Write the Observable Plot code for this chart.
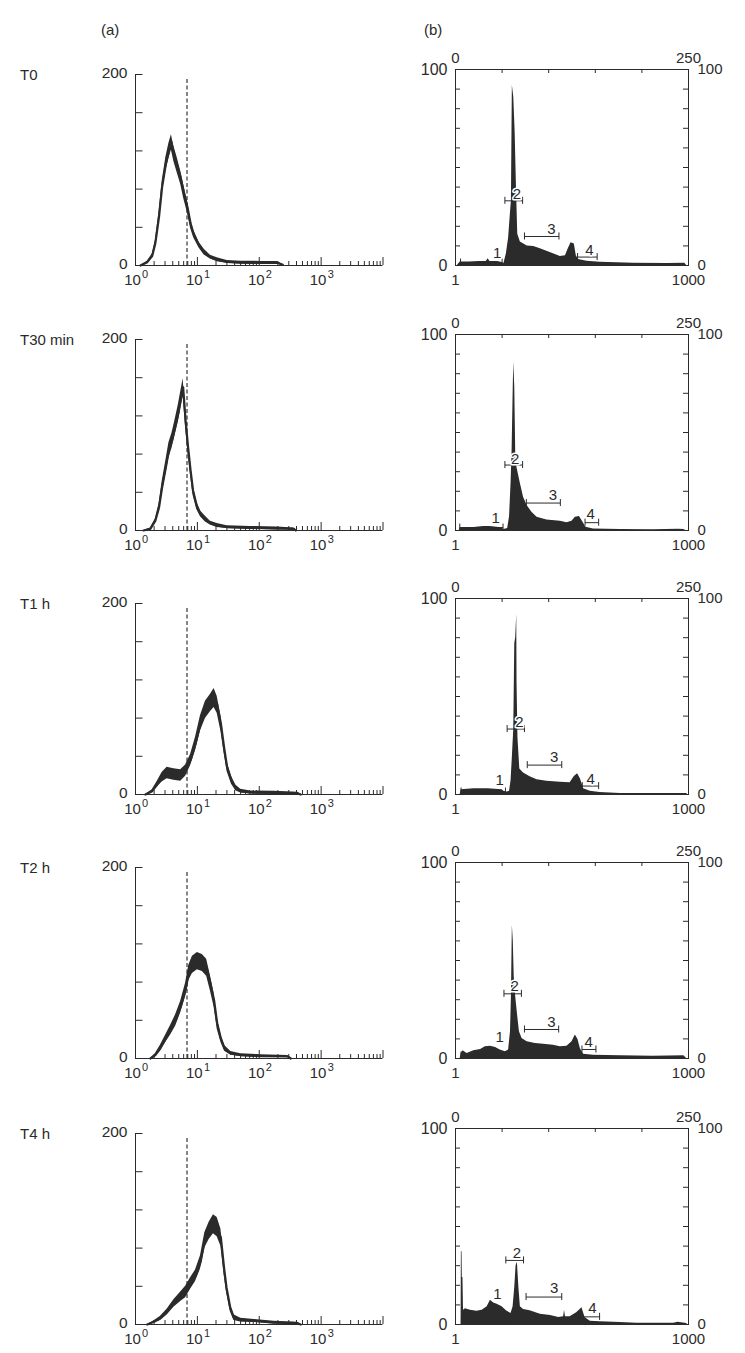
<!DOCTYPE html>
<html><head><meta charset="utf-8">
<script src="https://cdn.jsdelivr.net/npm/d3@7"></script>
<script src="https://cdn.jsdelivr.net/npm/@observablehq/plot@0.6"></script>
<style>
body{margin:0;background:#fff;font-family:"Liberation Sans",Arial,Helvetica,sans-serif;color:#2a2a2a}
#fig{position:relative;width:745px;height:1353px;overflow:hidden}
.lbl{position:absolute;font-size:15px;line-height:15px;white-space:nowrap;color:#2a2a2a}
#fig svg{position:absolute}
</style></head><body><div id="fig"></div>
<script>
// ---------- row labels ----------
const rowLabels = ["T0", "T30 min", "T1 h", "T2 h", "T4 h"];
const colLabels = ["(a)", "(b)"];

// ---------- column (a): log fluorescence histograms (exponent of 10, cell count, noise half-width) ----------
const aT0Exp  = [0.08,0.19,0.27,0.32,0.38,0.43,0.49,0.54,0.58,0.62,0.67,0.73,0.78,0.84,0.89,0.94,1.03,1.11,1.21,1.32,1.48,1.70,2.02,2.29,2.38];
const aT0Cnt  = [0,3.5,10,23,51,82,106,120,129,117,106,92,77,61,44,33,21,14,8.7,6,3.8,3,2.8,2.8,0.7];
const aT0Spr  = [0,1,2,3,5,6,7,8,8,8,8,7,7,6,5,4,3,3,2,2,1.5,1.5,1.5,1.5,0.5];
const aT30Exp = [0.13,0.24,0.32,0.38,0.43,0.49,0.54,0.59,0.63,0.69,0.73,0.77,0.81,0.85,0.89,0.93,0.99,1.05,1.13,1.21,1.32,1.48,1.86,2.29,2.56,2.59];
const aT30Cnt = [0,1.7,10,24,45,66,84,94,105,122,136,150,115,87,63,42,26,17.5,12,7.7,5.2,3.5,2.8,2.1,1.7,0];
const aT30Spr = [0,1,2,4,6,7,8,8,8,9,9,9,8,7,6,5,4,3,3,2,2,1.5,1.5,1.5,1,0];
const aT1Exp  = [0.16,0.27,0.35,0.43,0.51,0.62,0.73,0.81,0.89,0.97,1.05,1.13,1.21,1.27,1.32,1.38,1.43,1.48,1.55,1.62,1.70,1.86,2.24,2.62,2.67];
const aT1Cnt  = [0,3.5,10.5,18,22.5,21,20,25,36,53,74.5,88.6,95.6,101,94,74.5,50,29,15,7,3.5,2.1,1.8,1.4,0];
const aT1Spr  = [0,1.5,3,5,6,6,6,6,6,7,8,9,9,10,9,8,6,5,4,3,2,1.5,1.5,1,0];
const aT2Exp  = [0.24,0.32,0.40,0.49,0.57,0.65,0.73,0.81,0.86,0.92,1.00,1.08,1.15,1.21,1.27,1.32,1.38,1.44,1.54,1.70,2.02,2.46,2.51];
const aT2Cnt  = [0,3.5,10.5,21,30,40,54,72,89.5,98,102,100,95,79,61,37,21,10.5,5.3,3.5,2.5,2.1,0];
const aT2Spr  = [0,1.5,3,4,5,6,6,7,8,9,9,9,9,8,7,6,4,3,2,1.5,1.5,1,0];
const aT4Exp  = [0.19,0.30,0.40,0.51,0.62,0.73,0.81,0.89,0.97,1.05,1.12,1.19,1.26,1.32,1.38,1.43,1.47,1.53,1.59,1.70,1.92,2.24,2.62,2.67];
const aT4Cnt  = [0,2.8,6.3,13,22,29,34,43,51,65,88,98,105,102,91,60,39,18,7.3,4.5,3.8,2,1.4,0];
const aT4Spr  = [0,1,2,3,4,5,6,6,6,7,8,9,10,10,9,7,5,4,3,2,1.5,1.5,1,0];
const aGate = 6.8;                       // dashed threshold
const aYTicks = [0,40,80,120,160,200];
const aYLabels = [0,200];
const aDecadeExps = [0,1,2,3];

// ---------- column (b): DNA content histograms (channel 0-250, count) ----------
const bT0Ch  = [2,5,15,25,33,35,37,45,50,52,54.6,57,59,60,61,62.5,64,65.4,66.8,69.6,77,84,91,98,105,112.5,118,121,124,127.5,129.6,132,141,155,173,191,227,246,248];
const bT0Val = [0,1.8,1.8,2,2,3.4,2,2,1.5,1,6,14,27,33,92,86,68,40,16,12,10,9.7,8.5,7.3,6,4.6,5,8.5,11.6,11,5,3,2.2,1.7,1.4,1.2,1,1.2,0];
const bT30Ch  = [4,5,20,30,37,47,50,52,56,58,59.6,60.7,61.8,62.5,63.6,64.6,66,69.6,73,76.8,82,87.5,98,112.5,119.6,125,128.6,133,136.8,140,148,177,212,239,245,247];
const bT30Val = [0,1.4,1.5,2,2,1.5,1.2,0.5,1,7,24,40,69,86,73,40,32,24,17,12.7,9.3,6.8,5.4,4.7,4,4.7,6.8,7.1,4.2,1.7,0.8,0.5,0.4,0.7,0.5,0];
const bT1Ch  = [5,6,20,35,50,53.6,58,59.6,61,62.5,63.6,64.6,65.7,66,67,69,73,80,87.5,98,112.5,123,127.5,131,134,137.5,144.6,155,177,240,248,249];
const bT1Val = [0,2.4,2.9,2.9,2.4,1,1.7,7,19,33,77,80,92,58,29,13,11,9,7.5,6.8,6.2,6,9.2,10.6,8,2.9,1.7,1,0.5,0.5,0.5,0];
const bT2Ch  = [5,6,8,12.5,19.6,27,32,37.5,43,48,53.6,57,59,60,61,62,63,64.6,66.8,68.6,71.4,76.8,85.7,94.6,105,112.5,119.6,125,128.6,131.4,134,137.5,148,177,212,245,248];
const bT2Val = [0,2.6,4,2.6,4,4.6,6,6.3,5.6,4.3,3.4,4.3,13.6,31.5,68,60,41.7,31.5,21.3,13.6,10.2,8.5,7.7,7.3,6.8,6,6.3,8.5,12,9.7,5,2.2,1.7,1.4,1.2,1.4,0];
const bT4Ch  = [6,6.3,7,7.3,8,8.6,10.7,16,23,28.6,34,37.5,41,44.6,50,54.6,59.6,61.8,63.6,65,66.4,68,69.6,73,80,91,102,110.7,116,117,118,123,130,135.7,139,144.6,155,170,195,234,239,248,249];
const bT4Val = [0,37.4,37,24,24,7.3,8,7.3,6.8,7.3,9,12.4,11,10.3,9,7,5.6,9,19,30,31.8,19,9,7.6,7,5.2,4.6,3.6,3.9,7.3,3.9,3.9,6,8.5,3.6,1.7,1.4,1.2,0.7,0.7,1.2,0.5,0];

// region markers 1-4 (channel start/end, level) and label positions
const markerIds = ["1","2","3","4"];
const mT0Start = [5.4,53,74,131],   mT0End = [50,72,111,152],     mT0Level = [1.5,33,14.8,4.3], mT0LblX = [44.6,66,103,143.6], mT0LblY = [6.3,36.5,18.7,8];
const mT30Start = [4.6,53,76,139],  mT30End = [51,72,112.5,153.6], mT30Level = [1.5,33.4,14,4],  mT30LblX = [43,64,104.6,145], mT30LblY = [6.4,36.5,18,8.5];
const mT1Start = [6,55.4,77,136],   mT1End = [53.6,74,114,153.6],  mT1Level = [1.5,33.4,15,4.3], mT1LblX = [47.5,68.6,106,145], mT1LblY = [7.2,37,18.8,8];
const mT2Start = [6,52,74,135.7],   mT2End = [53.6,70.7,110.7,150.7], mT2Level = [1.5,33,14.8,4.6], mT2LblX = [47.5,63.6,103,143], mT2LblY = [10.7,37,18.7,8.5];
const mT4Start = [6.4,54,75.7,134], mT4End = [54,73,114,154.6],    mT4Level = [1.5,32.7,14,3.9], mT4LblX = [45,66,106,147], mT4LblY = [15.7,36.4,18.3,8.1];

const bYTicks = [0,10,20,30,40,50,60,70,80,90,100];
const bTopTicks = [50,100,150,200];
const bTopLabels = [0,250];
const bBottomLabels = ["1","1000"];
const bSideLabels = [0,100];

// ---------- layout ----------
const rowBottom = [265,530,794,1058.3,1324];
const aH = 191, bH = 196;
const ink = "#2b2b2b";
const FONT = "'Liberation Sans', Arial, Helvetica, sans-serif";

const fig = document.getElementById("fig");
function place(el, left, top){ el.style.left = left + "px"; el.style.top = top + "px"; fig.appendChild(el); }
function label(text, left, cy){ const d = document.createElement("div"); d.className = "lbl"; d.textContent = text; place(d, left, cy - 8); }

function panelA(exps, cnts, spr){
  const pts = exps.map((e,i)=>({x: Math.pow(10,e), y: cnts[i], lo: Math.max(0, cnts[i]-spr[i]), hi: cnts[i]+spr[i]}));
  const minor = [];
  for (let d=0; d<4; d++) for (let k=2; k<=9; k++) minor.push(k*Math.pow(10,d));
  const decades = [1,10,100,1000,10000];
  return Plot.plot({
    width: 300, height: aH + 12 + 34,
    marginLeft: 45, marginRight: 7.5, marginTop: 12, marginBottom: 34,
    x: {type: "log", domain: [1, 1e4], axis: null},
    y: {domain: [0, 200], axis: null},
    style: {fontFamily: FONT, color: ink, background: "transparent", overflow: "visible"},
    marks: [
      Plot.ruleX([aGate], {x: d=>d, y1: 0, y2: 197, stroke: "#222", strokeWidth: 1.1, strokeDasharray: "4,2.5"}),
      Plot.areaY(pts, {x: "x", y1: "lo", y2: "hi", fill: ink}),
      Plot.line(pts, {x: "x", y: "y", stroke: ink, strokeWidth: 2.2, strokeLinejoin: "round"}),
      Plot.ruleY([0], {stroke: ink}),
      Plot.ruleX([1], {stroke: ink}),
      Plot.ruleY(aYTicks, {y: d=>d, stroke: ink, insetRight: 240}),
      Plot.ruleX(minor, {x: d=>d, stroke: ink, insetTop: aH - 4}),
      Plot.ruleX(decades, {x: d=>d, stroke: ink, insetTop: aH - 8}),
      Plot.text(aYLabels, {y: d=>d, frameAnchor: "left", textAnchor: "end", dx: -8, dy: -1, text: d=>String(d), fontSize: 15.5, fill: ink}),
      Plot.text(aDecadeExps, {x: d=>Math.pow(10,d), frameAnchor: "bottom", dy: 19.5, dx: -3, text: ()=>"10", fontSize: 15, fill: ink}),
      Plot.text(aDecadeExps, {x: d=>Math.pow(10,d), frameAnchor: "bottom", dy: 12.5, dx: 6.5, textAnchor: "start", text: d=>String(d), fontSize: 11, fill: ink})
    ]
  });
}

function panelB(ch, val, mStart, mEnd, mLevel, lblX, lblY){
  const pts = ch.map((c,i)=>({x: c, y: val[i]}));
  const markers = markerIds.map((id,i)=>({id, x1: mStart[i], x2: mEnd[i], y: mLevel[i], lx: lblX[i], ly: lblY[i]}));
  const ends = markers.flatMap(m=>[{x: m.x1, y: m.y}, {x: m.x2, y: m.y}]);
  const half = 1.8;
  return Plot.plot({
    width: 330, height: bH + 30 + 34,
    marginLeft: 40, marginRight: 57, marginTop: 30, marginBottom: 34,
    x: {domain: [0, 250], axis: null},
    y: {domain: [0, 100], axis: null},
    style: {fontFamily: FONT, color: ink, background: "transparent", overflow: "visible"},
    marks: [
      Plot.areaY(pts, {x: "x", y: "y", fill: ink}),
      Plot.frame({stroke: ink}),
      Plot.ruleY(bYTicks, {y: d=>d, stroke: ink, insetRight: 228}),
      Plot.ruleY(bYTicks, {y: d=>d, stroke: ink, insetLeft: 228}),
      Plot.ruleX(bTopTicks, {x: d=>d, stroke: ink, insetBottom: bH - 4}),
      Plot.link(markers, {x1: "x1", x2: "x2", y1: "y", y2: "y", stroke: ink}),
      Plot.ruleX(ends, {x: "x", y1: d=>Math.max(0, d.y - half), y2: d=>d.y + half, stroke: ink}),
      Plot.text(markers, {x: "lx", y: "ly", text: "id", fontSize: 15, fill: ink, stroke: "white", strokeWidth: 3, paintOrder: "stroke"}),
      Plot.text(bSideLabels, {y: d=>d, frameAnchor: "left", textAnchor: "end", dx: -8, text: d=>String(d), fontSize: 16, fill: ink}),
      Plot.text(bSideLabels, {y: d=>d, frameAnchor: "right", textAnchor: "start", dx: 9, text: d=>String(d), fontSize: 15, fill: ink}),
      Plot.text(bTopLabels, {x: d=>d, frameAnchor: "top", dy: -17.5, text: d=>String(d), fontSize: 15, fill: ink}),
      Plot.text(bTopLabels, {x: d=>d, frameAnchor: "bottom", dy: 19.5, text: (d,i)=>bBottomLabels[i], fontSize: 15, fill: ink})
    ]
  });
}

const aData = [[aT0Exp,aT0Cnt,aT0Spr],[aT30Exp,aT30Cnt,aT30Spr],[aT1Exp,aT1Cnt,aT1Spr],[aT2Exp,aT2Cnt,aT2Spr],[aT4Exp,aT4Cnt,aT4Spr]];
const bData = [
  [bT0Ch,bT0Val,mT0Start,mT0End,mT0Level,mT0LblX,mT0LblY],
  [bT30Ch,bT30Val,mT30Start,mT30End,mT30Level,mT30LblX,mT30LblY],
  [bT1Ch,bT1Val,mT1Start,mT1End,mT1Level,mT1LblX,mT1LblY],
  [bT2Ch,bT2Val,mT2Start,mT2End,mT2Level,mT2LblX,mT2LblY],
  [bT4Ch,bT4Val,mT4Start,mT4End,mT4Level,mT4LblX,mT4LblY]
];

label(colLabels[0], 101, 30);
label(colLabels[1], 424, 30);
rowLabels.forEach((r,i)=>{
  const aTop = rowBottom[i] - aH, bTop = rowBottom[i] - bH;
  label(r, 20, aTop + 1);
  place(panelA(...aData[i]), 90, aTop - 12);
  place(panelB(...bData[i]), 415, bTop - 30);
});
</script></body></html>
